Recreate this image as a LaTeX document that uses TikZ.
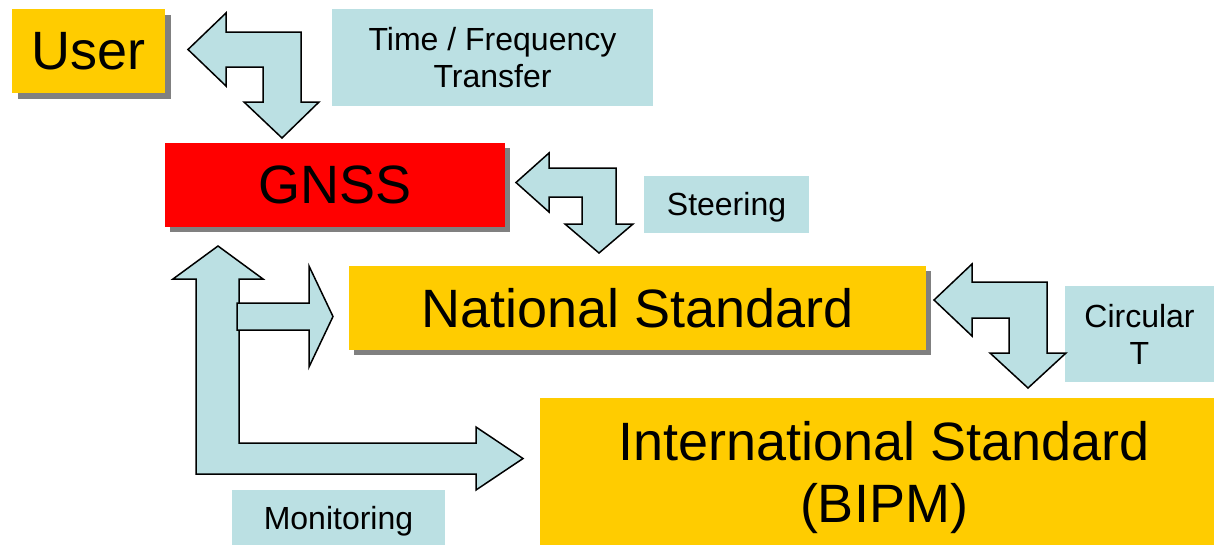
\documentclass[tikz,border=0pt]{standalone}
\usepackage{fontspec}
\setmainfont{Liberation Sans}
\usetikzlibrary{backgrounds}
\definecolor{gold}{HTML}{FFCC00}
\definecolor{gnssred}{HTML}{FF0000}
\definecolor{lblue}{HTML}{BBE0E3}
\definecolor{shadowc}{HTML}{808080}
\begin{document}
\begin{tikzpicture}[x=1pt,y=-1pt,
  bigbox/.style={draw=none, inner sep=0pt, font=\fontsize{54}{62}\selectfont, align=center},
  smallbox/.style={fill=lblue, draw=none, inner sep=0pt, font=\fontsize{32}{37}\selectfont, align=center},
  blockarrow/.style={fill=lblue, draw=black, line width=1.5pt, line join=miter},
  shadowfill/.style={fill=shadowc}]
\useasboundingbox (0,0) rectangle (1214,544);
% boxes
\node[bigbox, fill=gold, minimum width=153pt, minimum height=84pt] (user) at (88.5,51) {User};
\node[smallbox, minimum width=321pt, minimum height=97pt] (tft) at (492.5,57.5) {Time / Frequency\\Transfer};
\node[bigbox, fill=gnssred, minimum width=340pt, minimum height=84pt] (gnss) at (335,185) {GNSS};
\node[smallbox, minimum width=165pt, minimum height=57pt, text depth=2pt] (steer) at (726.5,204.5) {Steering};
\node[bigbox, fill=gold, minimum width=577pt, minimum height=84pt] (nat) at (637.5,308) {National Standard};
\node[smallbox, minimum width=149pt, minimum height=96pt] (circ) at (1139.5,334) {Circular\\T};
\node[bigbox, fill=gold, minimum width=688pt, minimum height=160pt] (intl) at (884,478) {International Standard\\(BIPM)};
\node[smallbox, minimum width=213pt, minimum height=63pt] (mon) at (338.5,521.5) {Monitoring};
% shadows
\begin{pgfonlayer}{background}
\fill[shadowfill] ([shift={(6,6)}]user.north west) rectangle ([shift={(6,6)}]user.south east);
\fill[shadowfill] ([shift={(5,5)}]gnss.north west) rectangle ([shift={(5,5)}]gnss.south east);
\fill[shadowfill] ([shift={(5,5)}]nat.north west) rectangle ([shift={(5,5)}]nat.south east);
\end{pgfonlayer}
% block arrows
\draw[blockarrow] (188,49.5) -- (226,13) -- (226,32) -- (301,32) -- (301,102) -- (319,102) -- (282,138) -- (244,102) -- (263,102) -- (263,67) -- (226,67) -- (226,86) -- cycle;
\draw[blockarrow] (516,182.5) -- (549,153) -- (549,168) -- (616,168) -- (616,224) -- (633,224) -- (599,253) -- (565,224) -- (582,224) -- (582,197) -- (549,197) -- (549,212) -- cycle;
\draw[blockarrow] (934,300) -- (972,264) -- (972,282) -- (1047,282) -- (1047,353) -- (1066,353) -- (1028,388) -- (990,353) -- (1009,353) -- (1009,318) -- (972,318) -- (972,336) -- cycle;
\draw[blockarrow] (218,246) -- (263,279) -- (239,279) -- (239,443) -- (476,443) -- (476,427) -- (523,458.5) -- (476,490) -- (476,474) -- (196,474) -- (196,279) -- (173,279) -- cycle;
\draw[blockarrow] (237,303) -- (309,303) -- (309,266) -- (333,316.5) -- (309,367) -- (309,330) -- (237,330) -- cycle;
\end{tikzpicture}
\end{document}
